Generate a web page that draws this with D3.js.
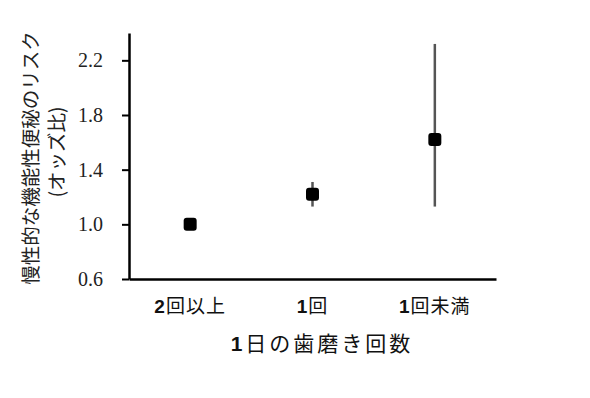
<!DOCTYPE html>
<html>
<head>
<meta charset="utf-8">
<script src="https://cdn.jsdelivr.net/npm/d3@7"></script>
<style>
  body { margin: 0; background: #fff; }
  svg { display: block; }
</style>
</head>
<body>
<div id="chart"></div>
<script>
// Data
const categories = ['2回以上', '1回', '1回未満'];
const categoryNum = ['2', '1', '1'];
const categoryRest = ['回以上', '回', '回未満'];
const oddsRatio = [1.0, 1.22, 1.62];
const ciLower = [1.0, 1.13, 1.13];
const ciUpper = [1.0, 1.31, 2.32];
const yTicks = [0.6, 1.0, 1.4, 1.8, 2.2];

const config = {
    width: 590,
    height: 398,
    margin: { top: 33, right: 94, bottom: 119, left: 129 },
    markerSize: 13
};

const svg = d3.select('#chart')
    .append('svg')
    .attr('width', config.width)
    .attr('height', config.height);

const xScale = d3.scaleBand()
    .domain(categories)
    .range([config.margin.left, config.width - config.margin.right]);

const yScale = d3.scaleLinear()
    .domain([0.6, 2.4])
    .range([config.height - config.margin.bottom, config.margin.top]);

// Y axis
const yAxis = svg.append('g')
    .attr('transform', `translate(${config.margin.left},0)`)
    .call(d3.axisLeft(yScale).tickValues(yTicks).tickFormat(d3.format('.1f')).tickSize(7).tickSizeOuter(0));
yAxis.select('.domain').attr('stroke', '#000').attr('stroke-width', 2.5);
yAxis.selectAll('.tick line').attr('stroke', '#000').attr('stroke-width', 2);
yAxis.selectAll('.tick text')
    .attr('x', -26)
    .style('font-family', '"Liberation Serif", "DejaVu Serif", serif')
    .style('font-size', '20px')
    .attr('fill', '#222');

// X axis
const xAxis = svg.append('g')
    .attr('transform', `translate(0,${config.height - config.margin.bottom})`)
    .call(d3.axisBottom(xScale).tickSize(0).tickSizeOuter(0));
xAxis.select('.domain').attr('stroke', '#000').attr('stroke-width', 2.5);
xAxis.selectAll('.tick text').remove();
xAxis.selectAll('.tick').each(function (d, i) {
    const t = d3.select(this).append('text')
        .attr('y', 27)
        .attr('dy', '0.35em')
        .attr('text-anchor', 'middle')
        .attr('fill', '#111')
        .style('font-size', '19px')
        .style('letter-spacing', '1px');
    t.append('tspan')
        .style('font-family', '"Liberation Sans", Arial, sans-serif')
        .style('font-weight', 'bold')
        .text(categoryNum[i]);
    t.append('tspan')
        .style('font-family', '"Noto Sans CJK JP", sans-serif')
        .text(categoryRest[i]);
});

// X title
const xTitle = svg.append('text')
    .attr('x', 322)
    .attr('y', 344)
    .attr('dy', '0.35em')
    .attr('text-anchor', 'middle')
    .attr('fill', '#111')
    .style('font-size', '21px')
    .style('letter-spacing', '3px');
xTitle.append('tspan')
    .style('font-family', '"Liberation Sans", Arial, sans-serif')
    .style('font-weight', 'bold')
    .text('1');
xTitle.append('tspan')
    .style('font-family', '"Noto Sans CJK JP", sans-serif')
    .text('日の歯磨き回数');

// Y title
const yTitle = svg.append('text')
    .attr('transform', 'translate(31,158) rotate(-90)')
    .attr('text-anchor', 'middle')
    .attr('fill', '#222')
    .style('font-family', '"Noto Sans CJK JP", sans-serif')
    .style('font-size', '19.5px');
yTitle.append('tspan')
    .attr('x', 0)
    .attr('dy', '0.35em')
    .text('慢性的な機能性便秘のリスク');
yTitle.append('tspan')
    .attr('x', 6)
    .attr('dy', '1.35em')
    .text('(オッズ比)');

const cx = d => xScale(d) + xScale.bandwidth() / 2;

// Error bars
svg.selectAll('.ci')
    .data(categories)
    .enter()
    .append('line')
    .attr('class', 'ci')
    .attr('x1', d => cx(d))
    .attr('x2', d => cx(d))
    .attr('y1', (d, i) => yScale(ciLower[i]))
    .attr('y2', (d, i) => yScale(ciUpper[i]))
    .attr('stroke', '#555')
    .attr('stroke-width', 2.5);

// Markers
svg.selectAll('.pt')
    .data(categories)
    .enter()
    .append('rect')
    .attr('class', 'pt')
    .attr('x', d => cx(d) - config.markerSize / 2)
    .attr('y', (d, i) => yScale(oddsRatio[i]) - config.markerSize / 2)
    .attr('width', config.markerSize)
    .attr('height', config.markerSize)
    .attr('rx', 3)
    .attr('fill', '#000');
</script>
</body>
</html>
